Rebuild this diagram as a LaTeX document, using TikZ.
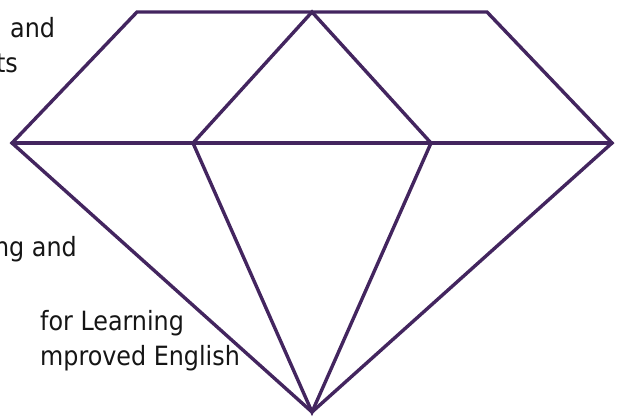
\documentclass[tikz,border=0pt]{standalone}
\usepackage{fontspec}
\setmainfont{DejaVu Sans Condensed}
\definecolor{gem}{HTML}{43255F}
\definecolor{txt}{HTML}{151515}
\tikzset{
  facet/.style={draw=gem, line width=3.4pt, line join=miter, line cap=round},
  lbl/.style={inner sep=0pt, text=txt, font=\fontsize{26.5}{32}\selectfont}
}
\begin{document}
\begin{tikzpicture}[x=1pt,y=-1pt]
\useasboundingbox (0,0) rectangle (623,416);
\clip (0,0) rectangle (623,416);
% vertices
\coordinate (tl) at (137,12);
\coordinate (tm) at (312,12);
\coordinate (tr) at (487,12);
\coordinate (l) at (12,143);
\coordinate (il) at (193,143);
\coordinate (ir) at (431,143);
\coordinate (r) at (612,143);
\coordinate (b) at (312,412);
% facets
\draw[facet] (l) -- (tl) -- (tr) -- (r) -- (b) -- cycle;
\draw[facet] (l) -- (r);
\draw[facet] (il) -- (tm) -- (ir);
\draw[facet] (il) -- (b) -- (ir);
% texts
\node[lbl, anchor=base west] (t1) at (10,37) {and};
\node[lbl, anchor=base east] (t2) at (18,72) {ts};
\node[lbl, anchor=base east] (t3) at (77,256) {ng and};
\node[lbl, anchor=base west] (t4) at (40,330) {for Learning};
\node[lbl, anchor=base west] (t5) at (40,365) {mproved English};
\end{tikzpicture}
\end{document}
